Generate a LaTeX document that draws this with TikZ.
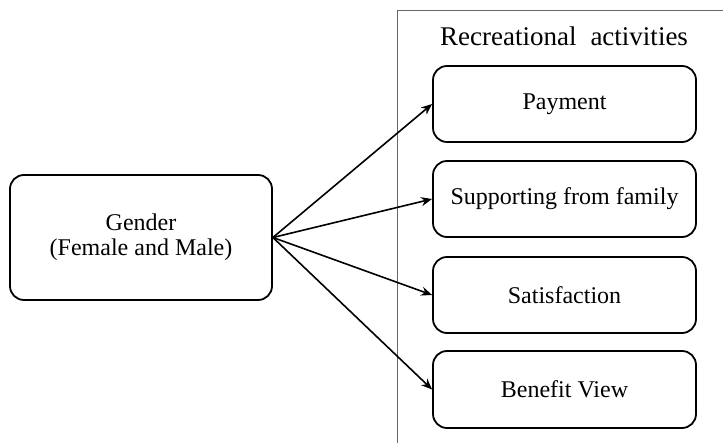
\documentclass[tikz,border=0pt]{standalone}
\usepackage{fontspec}
\setmainfont{Liberation Serif}
\usetikzlibrary{arrows.meta}
\begin{document}
\begin{tikzpicture}[x=1pt,y=-1pt,
  box/.style={draw, line width=1.8pt, rounded corners=14pt, align=center,
    font=\fontsize{24}{25}\selectfont, inner sep=0pt},
  conn/.style={line width=1.6pt, -{Stealth[length=11pt,width=9pt]}},
  frame/.style={draw=black!60, line width=0.9pt}]
\useasboundingbox (0,0) rectangle (723,443);
\fill[white] (0,0) rectangle (723,443);
\path[frame] (397,443) -- (397,10) -- (723,10);
\node[font=\fontsize{27}{30}\selectfont] (title) at (564,36) {Recreational\hspace{14pt}activities};
\node[box, minimum width=262pt, minimum height=125pt] (g) at (141,237.5) {Gender\\(Female and Male)};
\node[box, minimum width=263pt, minimum height=76pt] (p) at (564.5,104) {Payment};
\node[box, minimum width=263pt, minimum height=76pt] (s) at (564.5,199) {Supporting from family};
\node[box, minimum width=263pt, minimum height=76pt] (f) at (564.5,295) {Satisfaction};
\node[box, minimum width=263pt, minimum height=77pt] (b) at (564.5,389.5) {Benefit View};
\coordinate (o) at (g.east);
\draw[conn] (o) -- (p.west);
\draw[conn] (o) -- (s.west);
\draw[conn] (o) -- (f.west);
\draw[conn] (o) -- (b.west);
\end{tikzpicture}
\end{document}
